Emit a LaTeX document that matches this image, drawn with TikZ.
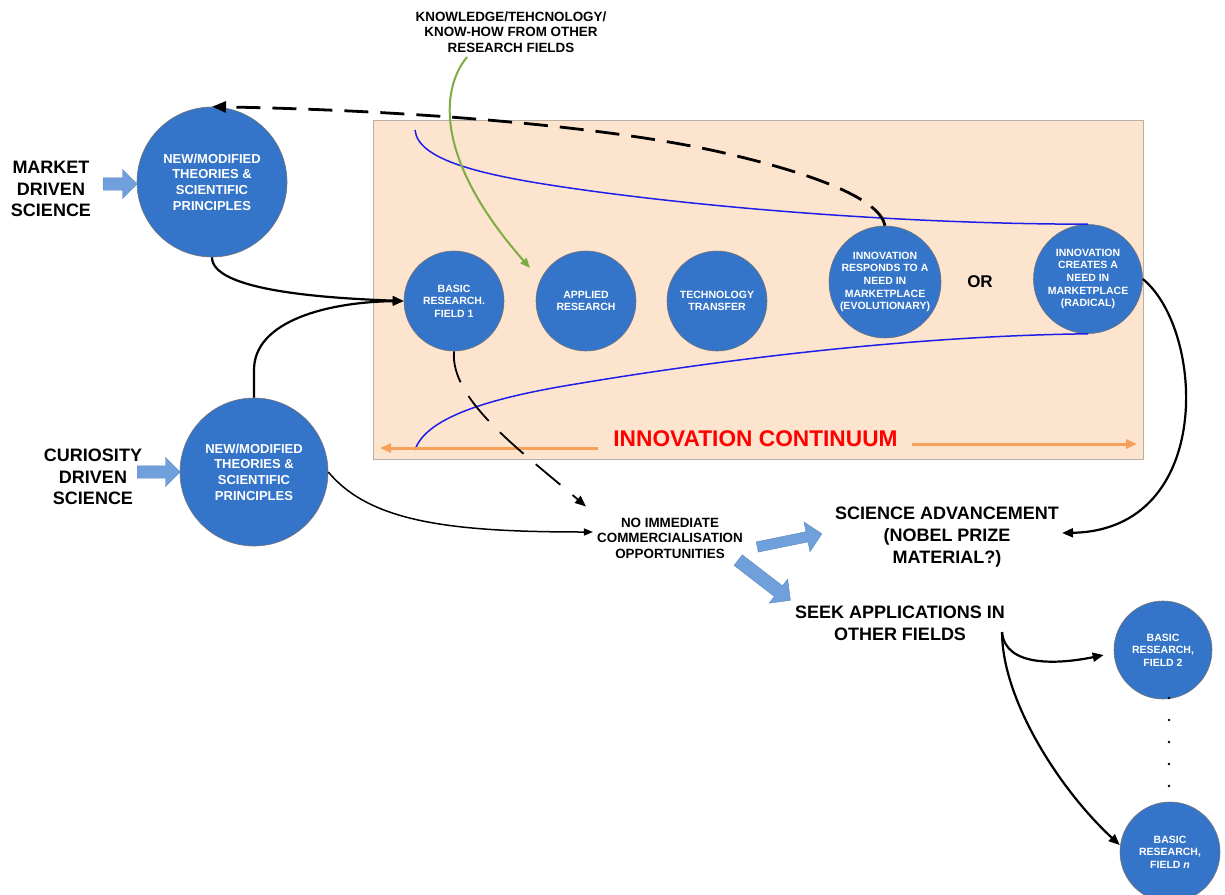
\documentclass[tikz,border=0pt]{standalone}
\usepackage{fontspec}
\setmainfont{Liberation Sans}
\usetikzlibrary{shapes.arrows,arrows.meta}

\definecolor{circblue}{RGB}{52,117,201}
\definecolor{arrblue}{RGB}{111,160,220}
\definecolor{peach}{RGB}{252,228,207}
\definecolor{peachedge}{RGB}{185,175,165}
\definecolor{contorange}{RGB}{246,160,90}
\definecolor{linkgreen}{RGB}{125,172,66}
\definecolor{pathblue}{RGB}{30,30,235}

\begin{document}
\begin{tikzpicture}[x=1pt,y=-1pt,
  bubble/.style={circle, fill=circblue, draw=black!55, line width=0.6pt, inner sep=0pt,
    text=white, align=center, font=\bfseries\fontsize{10.5}{12.6}\selectfont},
  bigbubble/.style={bubble, font=\bfseries\fontsize{13}{15.7}\selectfont},
  biglabel/.style={align=center, inner sep=0pt, font=\bfseries\fontsize{18}{21.6}\selectfont},
  smalllabel/.style={align=center, inner sep=0pt, font=\bfseries\fontsize{13.4}{15.6}\selectfont},
  blockarrow/.style={single arrow, fill=arrblue, draw=arrblue!85!black, line width=0.4pt,
    inner xsep=0pt, minimum width=0pt, single arrow head indent=0pt, anchor=tail},
  link/.style={draw=black, line width=2.2pt, -{Triangle[length=11pt,width=9pt]}},
  thinlink/.style={draw=black, line width=1.5pt, -{Triangle[length=9pt,width=7pt]}},
  dashlink/.style={draw=black, line width=2.8pt, dash pattern=on 24pt off 12pt,
    -{Triangle[length=14pt,width=11pt]}},
  dashlinkthin/.style={draw=black, line width=1.8pt, dash pattern=on 32pt off 16pt,
    -{Triangle[length=11pt,width=9pt]}},
  bluepath/.style={draw=pathblue, line width=1.5pt},
  contarrow/.style={draw=contorange, line width=3pt, -{Triangle[length=11pt,width=9pt]}},
]
\useasboundingbox (0,0) rectangle (1225,894);

% innovation continuum panel
\draw[fill=peach, draw=peachedge, line width=1pt] (373,120) rectangle (1143,459);

% circles
\node[bigbubble, minimum size=150pt] (tl) at (212,182) {NEW/MODIFIED\\THEORIES \&\\SCIENTIFIC\\PRINCIPLES};
\node[bigbubble, minimum size=148pt] (bl) at (254,472) {NEW/MODIFIED\\THEORIES \&\\SCIENTIFIC\\PRINCIPLES};
\node[bubble, minimum size=100pt] (br1) at (454,301) {BASIC\\RESEARCH.\\FIELD 1};
\node[bubble, minimum size=100pt] (ar) at (586,301) {APPLIED\\RESEARCH};
\node[bubble, minimum size=100pt] (tt) at (717,301) {TECHNOLOGY\\TRANSFER};
\node[bubble, minimum size=112pt] (ir) at (885,282) {INNOVATION\\RESPONDS TO A\\NEED IN\\MARKETPLACE\\(EVOLUTIONARY)};
\node[bubble, minimum size=109pt] (ic) at (1088,279) {INNOVATION\\CREATES A\\NEED IN\\MARKETPLACE\\(RADICAL)};
\node[bubble, minimum size=98pt] (f2) at (1163,650) {BASIC\\RESEARCH,\\FIELD 2};
\node[bubble, minimum size=100pt] (fn) at (1170,852) {BASIC\\RESEARCH,\\FIELD {\itshape n}};

% blue envelope of the continuum
\draw[bluepath] (415,130) .. controls (418,160) and (480,175) .. (570,188)
  .. controls (700,207) and (900,224) .. (ic.north);
\draw[bluepath] (415,450) .. controls (425,420) and (480,400) .. (570,385)
  .. controls (700,363) and (900,336) .. (ic.south);

% text labels
\node[biglabel] (market) at (51,189) {MARKET\\DRIVEN\\SCIENCE};
\node[biglabel] (curio) at (93,477) {CURIOSITY\\DRIVEN\\SCIENCE};
\node[smalllabel] (know) at (511,32) {KNOWLEDGE/TEHCNOLOGY/\\KNOW-HOW FROM OTHER\\RESEARCH FIELDS};
\node[biglabel, font=\bfseries\fontsize{17}{20}\selectfont] (or) at (980,282) {OR};
\node[inner sep=0pt, text=red, font=\bfseries\fontsize{22.7}{26}\selectfont] (cont) at (755.5,439) {INNOVATION CONTINUUM};
\node[smalllabel] (noimm) at (670,538) {NO IMMEDIATE\\COMMERCIALISATION\\OPPORTUNITIES};
\node[biglabel] (sciadv) at (947,537) {SCIENCE ADVANCEMENT\\(NOBEL PRIZE\\MATERIAL?)};
\node[biglabel] (seek) at (900,623) {SEEK APPLICATIONS IN\\OTHER FIELDS};

% continuum arrows
\coordinate (contL) at (380,448);
\coordinate (contR) at (1137,444);
\draw[contarrow] ([shift={(-15pt,-9pt)}]cont.west) -- (contL);
\draw[contarrow] ([shift={(14pt,-5pt)}]cont.east) -- (contR);

% block arrows
\node[blockarrow, inner ysep=6pt, single arrow head extend=8.5pt, minimum height=34pt] (ma) at (103,184) {};
\node[blockarrow, inner ysep=6pt, single arrow head extend=8.5pt, minimum height=43pt] (ca) at (137,472) {};
\node[blockarrow, inner ysep=5pt, single arrow head extend=10pt, minimum height=66pt, rotate=11.5] (aa) at (757,547) {};
\node[blockarrow, inner ysep=6.5pt, single arrow head extend=8.5pt, minimum height=66pt, rotate=-37.6] (ab) at (738,560) {};

% knowledge from other fields
\coordinate (g0) at (467,57);
\coordinate (g1) at (530,268);
\draw[draw=linkgreen, line width=2pt, -{Triangle[length=10pt,width=8pt]}]
  (g0) .. controls (440,90) and (435,160) .. (g1);

% feedback from the market to theory
\draw[dashlink] (ir.north) .. controls (880,200) and (820,175) .. (720,152)
  .. controls (600,125) and (400,110) .. (tl.north);

% theory feeding basic research
\draw[link] (tl.south) .. controls (212,290) and (320,298) .. (br1.west);
\draw[link] (bl.north) -- (254,370) .. controls (254,320) and (330,302) .. (br1.west);

% no immediate commercialisation
\draw[thinlink] (bl.east) .. controls (370,522) and (450,532) .. ([shift={(-4pt,6pt)}]noimm.west);
\draw[dashlinkthin] (br1.south) .. controls (450,400) and (520,450) .. ([shift={(-11pt,11pt)}]noimm.north west);

% radical innovation towards science advancement
\draw[link] (ic.east) .. controls (1205,330) and (1215,530) .. ([xshift=3pt,yshift=4pt]sciadv.east);

% applications in other fields
\coordinate (s0) at ([shift={(-3pt,-9pt)}]seek.east);
\draw[link] (s0) .. controls (1005,668) and (1060,664) .. ([xshift=-10pt,yshift=-5pt]f2.west);
\draw[link] (s0) .. controls (1002,700) and (1060,790) .. ([yshift=7pt]fn.west);

% ellipsis between fields
\foreach \yy in {698,720,742,764,786}
  \fill (1169,\yy) circle (1.3pt);
\end{tikzpicture}
\end{document}
